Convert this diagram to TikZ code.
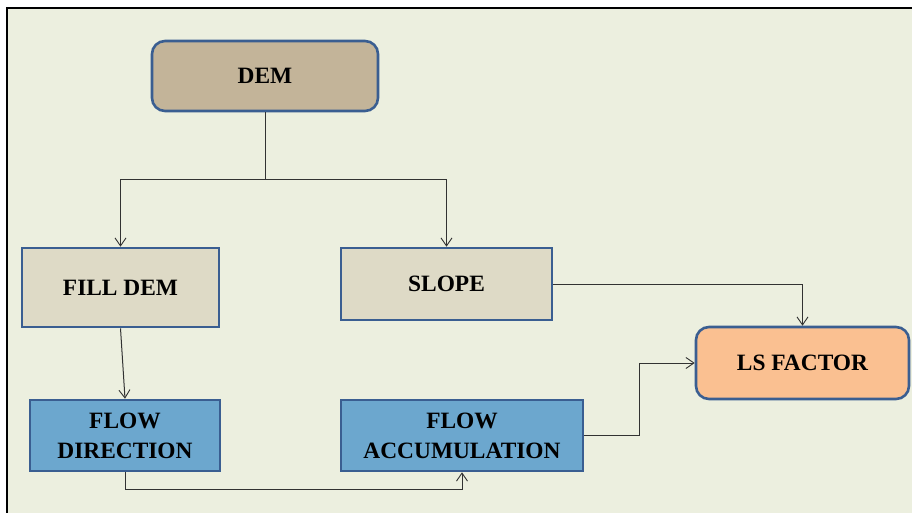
\documentclass[tikz,border=0pt]{standalone}
\usepackage{fontspec}
\setmainfont{Liberation Serif}
\usetikzlibrary{arrows.meta}
\definecolor{pagebg}{RGB}{236,239,223}
\definecolor{edgeblue}{RGB}{58,94,145}
\definecolor{demfill}{RGB}{195,180,153}
\definecolor{beigefill}{RGB}{222,218,198}
\definecolor{bluefill}{RGB}{108,167,206}
\definecolor{peachfill}{RGB}{250,192,145}
\definecolor{wire}{RGB}{50,50,50}
\tikzset{
  box/.style={draw=edgeblue, line width=2.6pt, inner sep=0pt,
    font=\fontsize{23.4}{30}\selectfont\bfseries, align=center, text=black},
  roundbox/.style={box, rounded corners=13pt},
  link/.style={draw=wire, line width=1pt,
    -{Straight Barb[length=8pt,width=11pt,line width=0.9pt]}},
}
\begin{document}
\begin{tikzpicture}[x=1pt,y=-1pt]
  \useasboundingbox (0,0) rectangle (912,513);
  \fill[white] (0,0) rectangle (912,513);
  \fill[pagebg] (7,8) rectangle (912,513);
  \draw[black, line width=1.6pt] (7,513) -- (7,8) -- (912,8);

  % process boxes
  \node[roundbox, fill=demfill, minimum width=226pt, minimum height=70pt]
    (dem) at (265,76) {DEM};
  \node[box, fill=beigefill, minimum width=197pt, minimum height=79pt]
    (fill) at (120.5,287.5) {FILL DEM};
  \node[box, fill=beigefill, minimum width=211pt, minimum height=72pt]
    (slope) at (446.5,284) {SLOPE};
  \node[box, fill=bluefill, minimum width=190pt, minimum height=71pt]
    (fdir) at (125,435.5) {FLOW\\DIRECTION};
  \node[box, fill=bluefill, minimum width=242pt, minimum height=71pt]
    (facc) at (462,435.5) {FLOW\\ACCUMULATION};
  \node[roundbox, fill=peachfill, minimum width=213pt, minimum height=72pt]
    (ls) at (802.5,363) {LS FACTOR};

  % connectors
  \coordinate (split) at (265,180);
  \draw[draw=wire, line width=1pt] (dem.south) -- (split);
  \draw[link] (split) -| (fill.north);
  \draw[link] (split) -| (slope.north);
  \draw[link] (fill.south) -- (fdir.north);
  \coordinate (low) at (125,489);
  \draw[link] (fdir.south) -- (low) -| (facc.south);
  \coordinate (bend) at (639,435.5);
  \draw[link] (facc.east) -- (bend) |- (ls.west);
  \draw[link] (slope.east) -| (ls.north);
\end{tikzpicture}
\end{document}
